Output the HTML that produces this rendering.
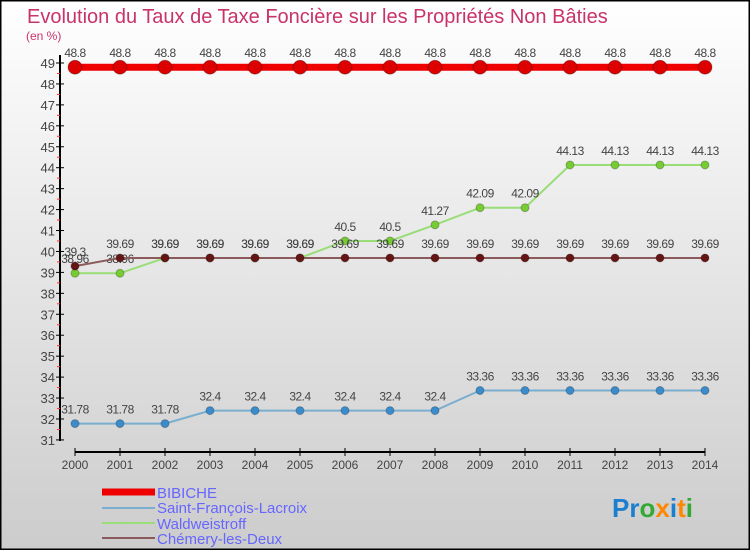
<!DOCTYPE html>
<html><head><meta charset="utf-8"><style>
body{margin:0}
svg{display:block;font-family:"Liberation Sans",sans-serif}
</style></head><body>
<svg id="c" width="750" height="550" xmlns="http://www.w3.org/2000/svg">
<defs><linearGradient id="bg" x1="0" y1="0" x2="0" y2="1"><stop offset="0" stop-color="#ffffff"/><stop offset="1" stop-color="#cccccc"/></linearGradient></defs>
<rect x="0.5" y="0.5" width="749" height="549" fill="url(#bg)" stroke="#000" stroke-width="2"/>
<text x="27" y="23" font-size="20" fill="#c8336a">Evolution du Taux de Taxe Foncière sur les Propriétés Non Bâties</text>
<text x="26" y="40" font-size="12" fill="#c8336a">(en %)</text>
<g id="axes"></g><g id="series"></g>
<g>
<line x1="102" y1="492" x2="155" y2="492" stroke="#ee0000" stroke-width="7"/>
<text x="157" y="498" font-size="15" fill="#6666ff">BIBICHE</text>
<line x1="102" y1="508" x2="155" y2="508" stroke="#7aaed0" stroke-width="2"/>
<text x="157" y="513" font-size="15" fill="#6666ff">Saint-François-Lacroix</text>
<line x1="102" y1="523" x2="155" y2="523" stroke="#99dd77" stroke-width="2"/>
<text x="157" y="529" font-size="15" fill="#6666ff">Waldweistroff</text>
<line x1="102" y1="538" x2="155" y2="538" stroke="#8b5a5a" stroke-width="2"/>
<text x="157" y="544" font-size="15" fill="#6666ff">Chémery-les-Deux</text>
</g>
<text x="612" y="517" font-size="26" font-weight="bold"><tspan fill="#1a7fd0">Pr</tspan><tspan fill="#33aa33">o</tspan><tspan fill="#ff8800">x</tspan><tspan fill="#1a7fd0">i</tspan><tspan fill="#ff8800">t</tspan><tspan fill="#33aa33">i</tspan></text>
</svg>
<script>
const years=[2000,2001,2002,2003,2004,2005,2006,2007,2008,2009,2010,2011,2012,2013,2014];
const yTicks=[31,32,33,34,35,36,37,38,39,40,41,42,43,44,45,46,47,48,49];
const bibiche=[48.8,48.8,48.8,48.8,48.8,48.8,48.8,48.8,48.8,48.8,48.8,48.8,48.8,48.8,48.8];
const saintFrancois=[31.78,31.78,31.78,32.4,32.4,32.4,32.4,32.4,32.4,33.36,33.36,33.36,33.36,33.36,33.36];
const waldweistroff=[38.96,38.96,39.69,39.69,39.69,39.69,40.5,40.5,41.27,42.09,42.09,44.13,44.13,44.13,44.13];
const chemery=[39.3,39.69,39.69,39.69,39.69,39.69,39.69,39.69,39.69,39.69,39.69,39.69,39.69,39.69,39.69];
const NS="http://www.w3.org/2000/svg";
const xs=i=>75+i*45;
const ys=v=>63+(49-v)*20.94;
function mk(p,t,a){const e=document.createElementNS(NS,t);for(const k in a)e.setAttribute(k,a[k]);p.appendChild(e);return e;}
const ax=document.getElementById('axes');
let l=mk(ax,'line',{x1:60,y1:55,x2:60,y2:441,stroke:'#000','stroke-width':2});


yTicks.forEach(v=>{
 mk(ax,'line',{x1:56,y1:ys(v),x2:64,y2:ys(v),stroke:'#000'});
 if(v<49)mk(ax,'line',{x1:57,y1:ys(v+0.5),x2:60,y2:ys(v+0.5),stroke:'#ff3333'});
 const t=mk(ax,'text',{x:55,y:ys(v)+5,'font-size':13,fill:'#444','text-anchor':'end'});
 t.textContent=v;
 
 
});
l=mk(ax,'line',{x1:75,y1:452,x2:705,y2:452,stroke:'#000','stroke-width':2});


years.forEach((y,i)=>{
 mk(ax,'line',{x1:xs(i),y1:448,x2:xs(i),y2:456,stroke:'#000'});
 const t=mk(ax,'text',{x:xs(i),y:469,'font-size':12,fill:'#444','text-anchor':'middle'});
 t.textContent=y;
 
 
});
const sg=document.getElementById('series');
function series(name,data,color,dot,w,r){
 const g=mk(sg,'g',{});
 
 
 mk(g,'polyline',{points:data.map((v,i)=>xs(i)+','+ys(v)).join(' '),fill:'none',stroke:color,'stroke-width':w});
 data.forEach((v,i)=>{
  const c=mk(g,'circle',{cx:xs(i),cy:ys(v),r:r,fill:dot,stroke:'rgba(0,0,0,0.25)'});
  
  
  const t=mk(g,'text',{x:xs(i),y:ys(v)-10,'font-size':12,fill:'#444','text-anchor':'middle','letter-spacing':'-0.5'});
  t.textContent=v;
  
  
 });
}
series('saint-francois',saintFrancois,'#7aaed0','#3a8ccc',2,4);
series('waldweistroff',waldweistroff,'#99dd77','#77cc33',2,4);
series('chemery',chemery,'#8b5a5a','#661515',2,4);
series('bibiche',bibiche,'#ee0000','#dd0000',7,7);
</script>
</body></html>
